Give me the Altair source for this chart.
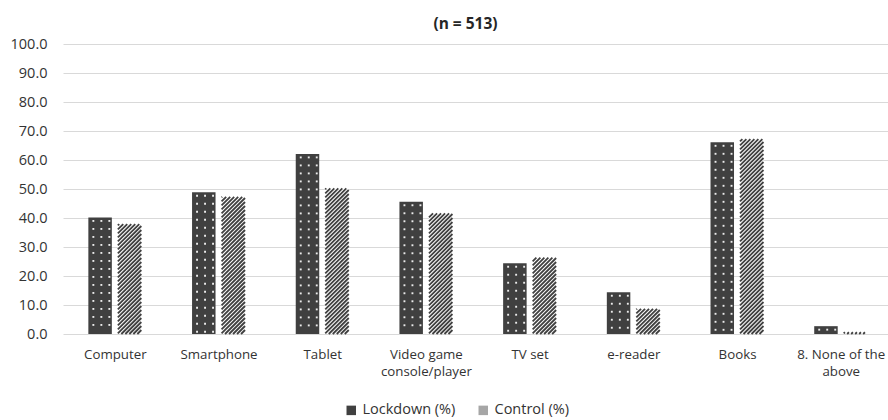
import json

import altair as alt
import numpy as np
import pandas as pd

# ---- data -------------------------------------------------------------
categories = [
    "Computer",
    "Smartphone",
    "Tablet",
    "Video game\nconsole/player",
    "TV set",
    "e-reader",
    "Books",
    "8. None of the\nabove",
]
lockdown = [40.2, 48.9, 62.1, 45.6, 24.4, 14.4, 66.1, 2.7]
control = [37.9, 47.3, 50.2, 41.6, 26.3, 8.7, 67.2, 0.6]
series_names = ["Lockdown (%)", "Control (%)"]
y_ticks = [0, 10, 20, 30, 40, 50, 60, 70, 80, 90, 100]
title_text = "(n = 513)"

# ---- layout -----------------------------------------------------------
FONT = "Open Sans"
TEXT = "#333333"
BAR_DARK = "#404040"
PLOT_W, PLOT_H = 825, 290
X_DOMAIN = [-0.5, 7.456]
PX_X = PLOT_W / (X_DOMAIN[1] - X_DOMAIN[0])   # pixels per category
PX_Y = PLOT_H / 100.0                          # pixels per percent
HALF_GAP = 0.029                               # category units
BAR_W = 0.2265                                 # category units

rows = []
for i, (a, b) in enumerate(zip(lockdown, control)):
    rows.append(dict(cat=i, series=series_names[0],
                     x0=i - HALF_GAP - BAR_W, x1=i - HALF_GAP, value=a))
    rows.append(dict(cat=i, series=series_names[1],
                     x0=i + HALF_GAP, x1=i + HALF_GAP + BAR_W, value=b))
bars = pd.DataFrame(rows)

# dotted fill for the lockdown bars (white dots on a dark bar)
dot_cols_px = [5.0, 13.0, 21.0]
dot_step_px = 8.0
dot_rows = []
for r in rows:
    if r["series"] != series_names[0]:
        continue
    h_px = r["value"] * PX_Y
    d = 3.5
    while d < h_px - 1.5:
        for c in dot_cols_px:
            dot_rows.append(dict(x=r["x0"] + c / PX_X, y=r["value"] - d / PX_Y))
        d += dot_step_px
dots = pd.DataFrame(dot_rows)

# upward diagonal hatching for the control bars, clipped to each bar
hatch_period_px = 4.0
hatch_rows = []
for r in rows:
    if r["series"] != series_names[1]:
        continue
    w_px = (r["x1"] - r["x0"]) * PX_X
    h_px = r["value"] * PX_Y
    for c in np.arange(-w_px, h_px, hatch_period_px):
        u0 = max(0.0, -c)
        u1 = min(w_px, h_px - c)
        if u1 - u0 <= 0.2:
            continue
        hatch_rows.append(dict(
            x=r["x0"] + u0 / PX_X, x2=r["x0"] + u1 / PX_X,
            y=(u0 + c) / PX_Y, y2=(u1 + c) / PX_Y,
        ))
hatch = pd.DataFrame(hatch_rows)

# ---- scales / axes ----------------------------------------------------
label_lines = json.dumps([c.split("\n") for c in categories])
x_scale = alt.Scale(domain=X_DOMAIN, nice=False, zero=False)
y_scale = alt.Scale(domain=[0, 100], nice=False, zero=True)

x_axis = alt.Axis(
    values=list(range(len(categories))),
    labelExpr=f"{label_lines}[datum.value]",
    title=None, grid=False, ticks=False, domain=False,
    labelAngle=0, labelFlush=False, labelOverlap=False, labelBound=False,
    labelFont=FONT, labelFontSize=13.3, labelColor=TEXT,
    labelPadding=13, labelLineHeight=17.5, labelBaseline="top",
)
y_axis = alt.Axis(
    values=y_ticks, tickCount=11, format=".1f", title=None,
    grid=True, gridColor="#d9d9d9", gridWidth=1,
    domain=False, ticks=False, tickSize=0, labelOverlap=False,
    labelFont=FONT, labelFontSize=14.5, labelColor=TEXT, labelPadding=16,
)


def xq(field):
    return alt.X(field, type="quantitative", scale=x_scale, axis=x_axis)


def yq(field):
    return alt.Y(field, type="quantitative", scale=y_scale, axis=y_axis)


base_bars = alt.Chart(bars)

# bar bodies: solid dark for lockdown, white ground for the hatched control
bar_layer = base_bars.mark_bar().encode(
    x=xq("x0"),
    x2="x1:Q",
    y=yq("value"),
    y2=alt.datum(0),
    fill=alt.condition(
        alt.datum.series == series_names[0], alt.value(BAR_DARK), alt.value("#ffffff")
    ),
)

hatch_layer = alt.Chart(hatch).mark_rule(color=BAR_DARK, strokeWidth=1.8).encode(
    x=xq("x"), x2="x2:Q", y=yq("y"), y2="y2:Q",
)

dot_layer = alt.Chart(dots).mark_square(size=3.6, color="#ffffff", opacity=0.9).encode(
    x=xq("x"), y=yq("y"),
)

# invisible layer that carries the series legend
legend_layer = base_bars.mark_square(opacity=0, size=1).encode(
    x=xq("x0"),
    y=yq("value"),
    color=alt.Color(
        "series:N",
        scale=alt.Scale(domain=series_names, range=[BAR_DARK, "#a6a6a6"]),
        legend=alt.Legend(
            title=None, orient="none", direction="horizontal",
            legendX=281, legendY=359,
            symbolType="square", symbolSize=90, symbolOpacity=1,
            symbolStrokeWidth=0, labelFont=FONT, labelFontSize=14.5,
            labelColor=TEXT, labelOffset=4, columnPadding=20, padding=0,
        ),
    ),
)

chart = (
    alt.layer(bar_layer, hatch_layer, dot_layer, legend_layer)
    .properties(
        width=PLOT_W,
        height=PLOT_H,
        title=alt.TitleParams(
            title_text, font=FONT, fontSize=15.5, fontWeight="bold", color="#262626",
            anchor="middle", dx=-10, offset=4,
        ),
        autosize=alt.AutoSizeParams(type="none"),
        padding={"left": 63, "top": 44, "right": 0, "bottom": 86},
        background="#ffffff",
    )
    .configure_view(stroke=None)
)

chart.save("out.html", embed_options={"renderer": "svg", "actions": False})
